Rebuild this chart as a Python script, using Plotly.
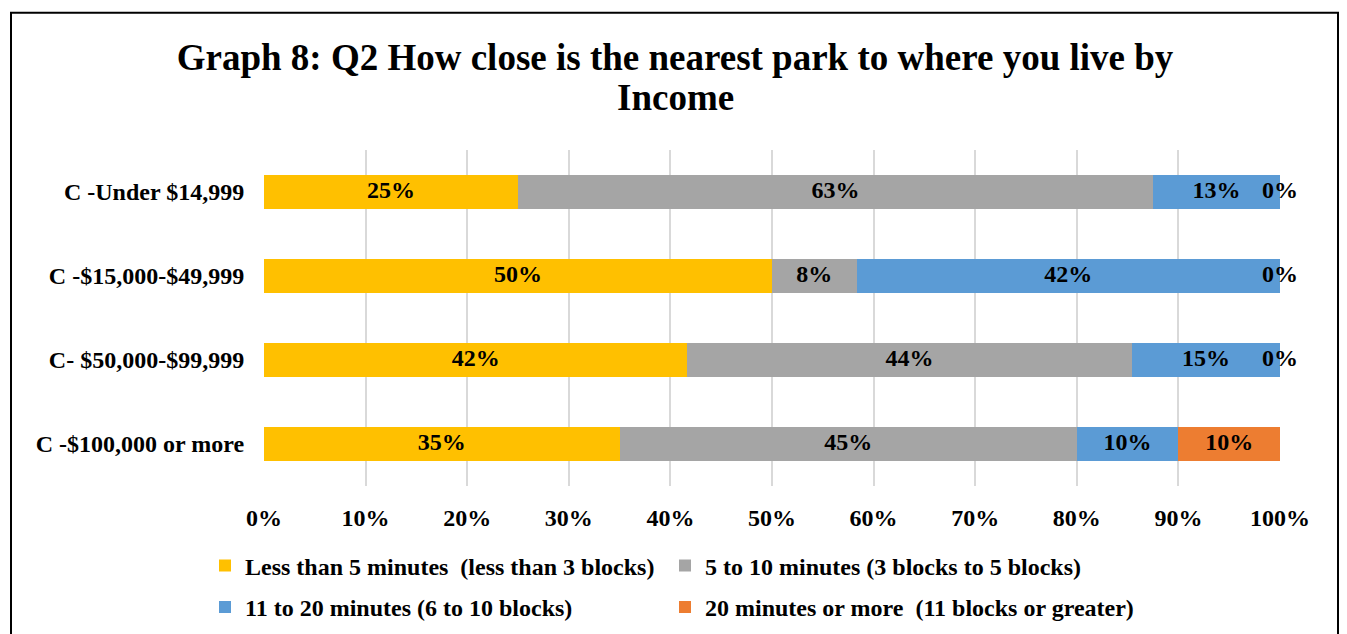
import math
import plotly.graph_objects as go

categories = ["C -Under $14,999", "C -$15,000-$49,999", "C- $50,000-$99,999", "C -$100,000 or more"]
series_names = [
    "Less than 5 minutes  (less than 3 blocks)",
    "5 to 10 minutes (3 blocks to 5 blocks)",
    "11 to 20 minutes (6 to 10 blocks)",
    "20 minutes or more  (11 blocks or greater)",
]
less_than_5 = [25.0, 50.0, 41.67, 35.0]
five_to_10 = [62.5, 8.33, 43.75, 45.0]
eleven_to_20 = [12.5, 41.67, 14.58, 10.0]
twenty_plus = [0.0, 0.0, 0.0, 10.0]
x_ticks = [0, 10, 20, 30, 40, 50, 60, 70, 80, 90, 100]
x_tick_labels = [f"{t}%" for t in x_ticks]
title_line1 = "Graph 8: Q2 How close is the nearest park to where you live by"
title_line2 = "Income"

colors = ["#FFC000", "#A5A5A5", "#5B9BD5", "#ED7D31"]
series = [less_than_5, five_to_10, eleven_to_20, twenty_plus]
legend_ids = ["legend", "legend2", "legend3", "legend4"]

FONT = "Liberation Serif, Times New Roman, serif"

# layout geometry (figure pixels)
L, T, PW, PH = 256, 142, 1016, 340
W, H = 1347, 634


def px_x(p):
    return (p - L) / PW


def px_y(p):
    return (T + PH - p) / PH


fig = go.Figure()
for name, vals, col, lg in zip(series_names, series, colors, legend_ids):
    fig.add_trace(go.Bar(
        y=categories, x=vals, name=name, orientation="h",
        marker=dict(color=col, line=dict(width=0)),
        hoverinfo="skip", legend=lg,
    ))

# data labels at segment centres computed from data
lx, ly, lt = [], [], []
for i, cat in enumerate(categories):
    cum = 0.0
    for vals in series:
        v = vals[i]
        lx.append(cum + v / 2)
        ly.append(cat)
        lt.append(f"{math.floor(v + 0.5)}%")
        cum += v
fig.add_trace(go.Scatter(
    x=lx, y=ly, text=lt, mode="text", showlegend=False, cliponaxis=False,
    textfont=dict(family=FONT, size=24, color="black", weight="bold"),
    hoverinfo="skip",
))

legend_common = dict(
    orientation="h", xanchor="left", yanchor="top",
    font=dict(family=FONT, size=24, color="black", weight="bold"),
    itemclick=False, itemdoubleclick=False,
    bgcolor="rgba(0,0,0,0)",
)
col_x = [197, 657]
row_y = [540, 582]

fig.update_layout(
    width=W, height=H,
    barmode="stack", bargap=0.6,
    paper_bgcolor="white", plot_bgcolor="white",
    margin=dict(l=L, r=W - L - PW, t=T, b=H - T - PH),
    font=dict(family=FONT, size=24, color="black", weight="bold"),
    title=dict(
        text=title_line1,
        x=667 / W, xanchor="center", xref="container",
        y=1 - 49 / H, yanchor="middle", yref="container",
        font=dict(family=FONT, size=37, color="black", weight="bold"),
    ),
    annotations=[dict(
        text=title_line2, xref="paper", yref="paper",
        x=px_x(667), y=px_y(89), xanchor="center", yanchor="middle",
        showarrow=False,
        font=dict(family=FONT, size=37, color="black", weight="bold"),
    )],
    xaxis=dict(
        range=[0, 100], tickvals=x_ticks, ticktext=x_tick_labels,
        showgrid=True, gridcolor="#D9D9D9", gridwidth=2,
        zeroline=False, showline=False,
        ticks="outside", ticklen=10, tickcolor="rgba(0,0,0,0)",
        tickfont=dict(family=FONT, size=24, color="black", weight="bold"),
    ),
    yaxis=dict(
        categoryorder="array", categoryarray=categories, autorange="reversed",
        showgrid=False, zeroline=False, showline=False,
        ticks="outside", ticklen=14, tickcolor="rgba(0,0,0,0)",
        tickfont=dict(family=FONT, size=24, color="black", weight="bold"),
    ),
    legend=dict(x=px_x(col_x[0]), y=px_y(row_y[0]), **legend_common),
    legend2=dict(x=px_x(col_x[1]), y=px_y(row_y[0]), **legend_common),
    legend3=dict(x=px_x(col_x[0]), y=px_y(row_y[1]), **legend_common),
    legend4=dict(x=px_x(col_x[1]), y=px_y(row_y[1]), **legend_common),
    shapes=[dict(
        type="rect", xref="paper", yref="paper",
        x0=px_x(3), x1=px_x(1330),
        y0=px_y(660), y1=px_y(3),
        line=dict(color="black", width=2), fillcolor="rgba(0,0,0,0)", layer="below",
    )],
    showlegend=True,
)

fig.write_html("out.html")
